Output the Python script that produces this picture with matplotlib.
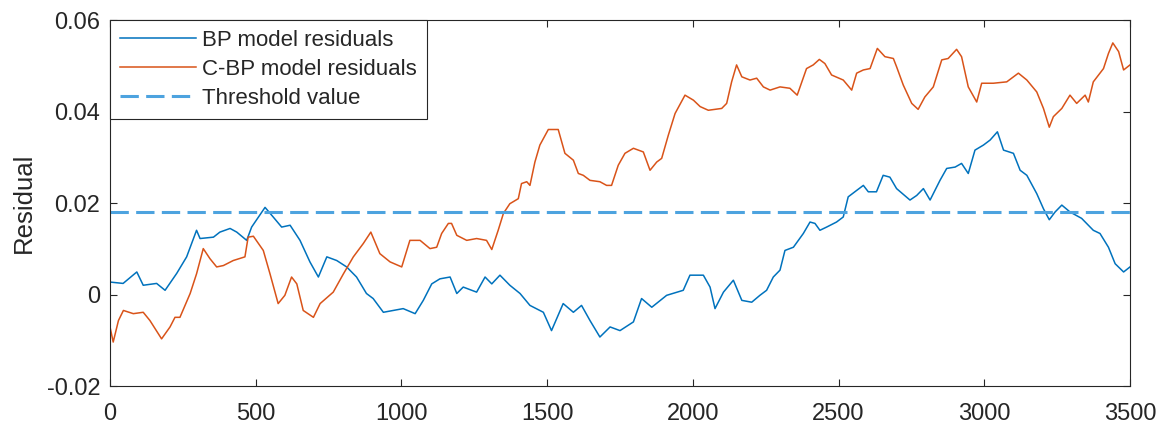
import matplotlib
matplotlib.use("Agg")
import matplotlib.pyplot as plt
import numpy as np

BP_X = [0, 45, 92, 114, 160, 189, 229, 263, 297, 309, 355, 377, 412, 435, 469, 486,
        532, 560, 589, 618, 652, 686, 715, 744, 778, 812, 846, 880, 903, 938, 972,
        1006, 1047, 1075, 1104, 1132, 1167, 1190, 1212, 1258, 1287, 1310, 1338, 1372,
        1407, 1441, 1487, 1515, 1555, 1590, 1618, 1647, 1681, 1716, 1750, 1796, 1824,
        1859, 1910, 1967, 1990, 2036, 2059, 2076, 2105, 2139, 2168, 2202, 2230, 2253,
        2276, 2299, 2316, 2345, 2379, 2402, 2419, 2436, 2459, 2493, 2516, 2533, 2562,
        2585, 2602, 2630, 2653, 2676, 2699, 2745, 2768, 2791, 2814, 2848, 2871, 2900,
        2922, 2945, 2968, 2997, 3020, 3045, 3066, 3100, 3123, 3146, 3180, 3203, 3223,
        3243, 3266, 3294, 3334, 3374, 3397, 3426, 3449, 3478, 3500]
BP_Y = [0.0028, 0.0025, 0.0050, 0.0021, 0.0025, 0.0010, 0.0047, 0.0083, 0.0141, 0.0123,
        0.0126, 0.0137, 0.0145, 0.0137, 0.0119, 0.0148, 0.0191, 0.0170, 0.0148, 0.0152,
        0.0119, 0.0072, 0.0039, 0.0083, 0.0075, 0.0061, 0.0039, 0.0003, -0.0008, -0.0038,
        -0.0034, -0.0030, -0.0041, -0.0012, 0.0024, 0.0035, 0.0039, 0.0003, 0.0017,
        0.0006, 0.0039, 0.0024, 0.0043, 0.0021, 0.0003, -0.0023, -0.0038, -0.0078,
        -0.0019, -0.0038, -0.0023, -0.0056, -0.0092, -0.0070, -0.0078, -0.0059, -0.0008,
        -0.0027, -0.0001, 0.0010, 0.0043, 0.0043, 0.0017, -0.0030, 0.0006, 0.0032,
        -0.0012, -0.0016, -0.0001, 0.0010, 0.0039, 0.0054, 0.0097, 0.0104, 0.0134,
        0.0159, 0.0156, 0.0141, 0.0148, 0.0159, 0.0170, 0.0214, 0.0228, 0.0239, 0.0225,
        0.0225, 0.0261, 0.0257, 0.0232, 0.0207, 0.0217, 0.0232, 0.0207, 0.0250, 0.0276,
        0.0279, 0.0287, 0.0265, 0.0316, 0.0327, 0.0338, 0.0356, 0.0316, 0.0309, 0.0272,
        0.0261, 0.0221, 0.0188, 0.0164, 0.0181, 0.0196, 0.0181, 0.0167, 0.0141, 0.0134,
        0.0104, 0.0068, 0.0050, 0.0061]

CBP_X = [0, 11, 29, 46, 80, 114, 137, 177, 206, 223, 240, 275, 297, 320, 343, 366, 389,
         423, 463, 474, 492, 526, 549, 577, 600, 623, 641, 663, 698, 721, 766, 801, 835,
         869, 895, 926, 961, 1001, 1029, 1064, 1098, 1121, 1138, 1161, 1172, 1190, 1224,
         1258, 1292, 1310, 1332, 1350, 1372, 1401, 1412, 1430, 1441, 1458, 1475, 1504,
         1538, 1561, 1590, 1607, 1624, 1647, 1681, 1704, 1721, 1744, 1767, 1796, 1830,
         1853, 1876, 1893, 1916, 1939, 1973, 2002, 2025, 2053, 2099, 2116, 2133, 2150,
         2168, 2196, 2219, 2242, 2265, 2299, 2333, 2358, 2390, 2413, 2434, 2453, 2476,
         2516, 2545, 2562, 2585, 2608, 2633, 2659, 2688, 2699, 2722, 2751, 2773, 2796,
         2825, 2854, 2876, 2905, 2922, 2945, 2974, 2991, 3031, 3077, 3117, 3146, 3180,
         3203, 3223, 3237, 3266, 3294, 3317, 3346, 3357, 3374, 3409, 3426, 3441, 3461,
         3478, 3500]
CBP_Y = [-0.0070, -0.0103, -0.0056, -0.0034, -0.0041, -0.0038, -0.0056, -0.0096, -0.0070,
         -0.0049, -0.0049, 0.0003, 0.0046, 0.0101, 0.0079, 0.0061, 0.0064, 0.0075, 0.0083,
         0.0126, 0.0128, 0.0097, 0.0046, -0.0019, -0.0001, 0.0039, 0.0024, -0.0034,
         -0.0049, -0.0019, 0.0006, 0.0046, 0.0083, 0.0112, 0.0137, 0.0090, 0.0072, 0.0061,
         0.0119, 0.0119, 0.0101, 0.0104, 0.0134, 0.0156, 0.0156, 0.0130, 0.0119, 0.0123,
         0.0119, 0.0099, 0.0141, 0.0178, 0.0199, 0.0210, 0.0243, 0.0247, 0.0239, 0.0290,
         0.0327, 0.0361, 0.0361, 0.0309, 0.0294, 0.0265, 0.0261, 0.0250, 0.0247, 0.0239,
         0.0239, 0.0283, 0.0309, 0.0320, 0.0312, 0.0272, 0.0290, 0.0298, 0.0349, 0.0396,
         0.0436, 0.0425, 0.0411, 0.0403, 0.0407, 0.0418, 0.0465, 0.0502, 0.0476, 0.0469,
         0.0473, 0.0454, 0.0447, 0.0454, 0.0451, 0.0436, 0.0494, 0.0502, 0.0514, 0.0505,
         0.0480, 0.0469, 0.0447, 0.0484, 0.0491, 0.0494, 0.0538, 0.0520, 0.0516, 0.0498,
         0.0458, 0.0418, 0.0405, 0.0432, 0.0454, 0.0513, 0.0516, 0.0536, 0.0520, 0.0454,
         0.0421, 0.0462, 0.0462, 0.0465, 0.0484, 0.0469, 0.0443, 0.0407, 0.0366, 0.0389,
         0.0407, 0.0436, 0.0418, 0.0436, 0.0421, 0.0465, 0.0494, 0.0527, 0.0550, 0.0531,
         0.0491, 0.0502]

THRESHOLD = 0.0181
X_RANGE = [0, 3500]

X_TICKS = [0, 500, 1000, 1500, 2000, 2500, 3000, 3500]
Y_TICKS = [-0.02, 0, 0.02, 0.04, 0.06]
Y_TICK_LABELS = ["-0.02", "0", "0.02", "0.04", "0.06"]

LABELS = ["BP model residuals", "C-BP model residuals", "Threshold value"]

AX_COLOR = "#262626"

plt.rcParams.update({
    "font.family": ["Liberation Sans", "DejaVu Sans"],
    "font.size": 16,
})

fig = plt.figure(figsize=(11.64, 4.25), dpi=100)
ax = fig.add_axes([0.0945, 0.0906, 0.8763, 0.8623])

ax.plot(BP_X, BP_Y, color="#0072BD", linewidth=1.1, label=LABELS[0])
ax.plot(CBP_X, CBP_Y, color="#D95319", linewidth=1.1, label=LABELS[1])
ax.plot(X_RANGE, [THRESHOLD, THRESHOLD], color="#4DA3DF", linewidth=2.2,
        linestyle=(0, (6, 2.4)), label=LABELS[2])

ax.set_xlim(0, 3500)
ax.set_ylim(-0.02, 0.06)
ax.set_xticks(X_TICKS)
ax.set_yticks(Y_TICKS)
ax.set_yticklabels(Y_TICK_LABELS)
ax.set_ylabel("Residual", fontsize=18.5, color=AX_COLOR, labelpad=8)

ax.tick_params(direction="in", length=5, width=0.8, top=True, right=True,
               colors=AX_COLOR, labelsize=17)
ax.tick_params(axis="x", pad=12)
ax.tick_params(axis="y", pad=7)
for spine in ax.spines.values():
    spine.set_linewidth(0.8)
    spine.set_color(AX_COLOR)

leg = ax.legend(loc="upper left", fontsize=16, fancybox=False, framealpha=1,
                edgecolor=AX_COLOR, borderaxespad=0, handlelength=3.4,
                handletextpad=0.3, labelspacing=0.36, borderpad=0.45)
leg.get_frame().set_linewidth(0.8)
for txt in leg.get_texts():
    txt.set_color(AX_COLOR)

fig.savefig("out.png", dpi=100)
